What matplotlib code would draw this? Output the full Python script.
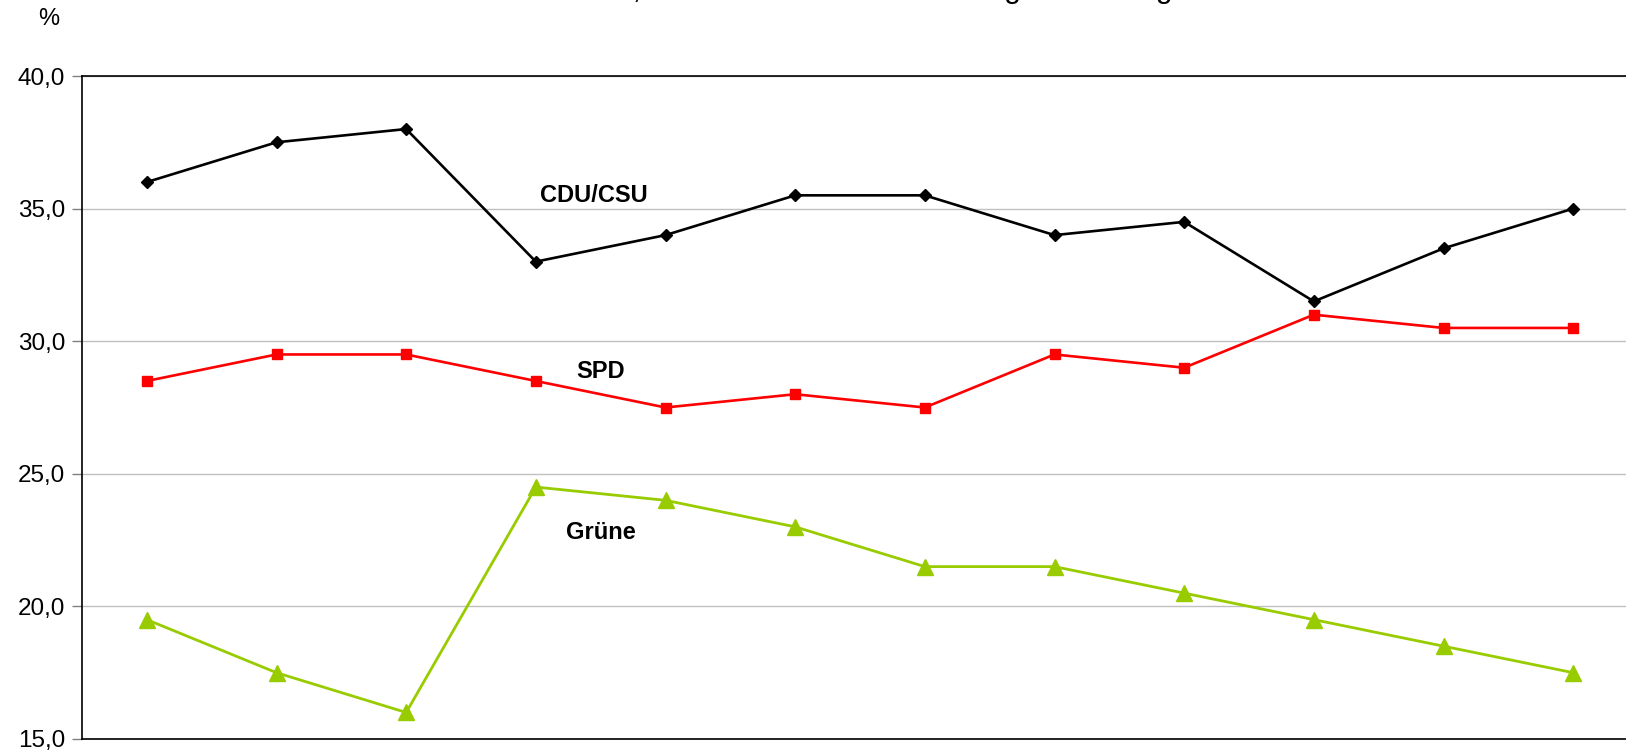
import matplotlib

matplotlib.use("Agg")
import matplotlib.pyplot as plt
from matplotlib.ticker import FuncFormatter, MultipleLocator

plt.rcParams["font.family"] = ["Liberation Sans", "DejaVu Sans"]

# survey waves (no labels visible in the crop)
waves = list(range(12))
cdu_csu = [36.0, 37.5, 38.0, 33.0, 34.0, 35.5, 35.5, 34.0, 34.5, 31.5, 33.5, 35.0]
spd = [28.5, 29.5, 29.5, 28.5, 27.5, 28.0, 27.5, 29.5, 29.0, 31.0, 30.5, 30.5]
gruene = [19.5, 17.5, 16.0, 24.5, 24.0, 23.0, 21.5, 21.5, 20.5, 19.5, 18.5, 17.5]
title = "Stimmenanteile der Parteien, wenn am nächsten Sonntag Bundestagswahl wäre"

W, H = 1626, 752
fig = plt.figure(figsize=(W / 100, H / 100), dpi=100)
left, right, top, bottom = 82, 1638, 76, 739
ax = fig.add_axes([left / W, 1 - bottom / H, (right - left) / W, (bottom - top) / H])

ax.plot(waves, cdu_csu, color="black", lw=1.9, marker="D", ms=6.5, zorder=3)
ax.plot(waves, spd, color="#ff0000", lw=1.9, marker="s", ms=7.5, zorder=3)
ax.plot(waves, gruene, color="#99cc00", lw=2.0, marker="^", ms=12, zorder=3)

ax.text(3.45, 35.5, "CDU/CSU", fontsize=17, fontweight="bold", ha="center", va="center")
ax.text(3.5, 28.85, "SPD", fontsize=17, fontweight="bold", ha="center", va="center")
ax.text(3.5, 22.8, "Grüne", fontsize=17, fontweight="bold", ha="center", va="center")

ax.set_xlim(-0.5, 11.5)
ax.set_ylim(15, 40)
ax.yaxis.set_major_locator(MultipleLocator(5))
ax.yaxis.set_major_formatter(FuncFormatter(lambda v, _: f"{v:.1f}".replace(".", ",")))
ax.set_xticks([])
ax.tick_params(axis="y", labelsize=17.5, length=7, width=1, color="#808080", pad=5)
ax.grid(axis="y", color="#c0c0c0", lw=1)
ax.set_axisbelow(True)
for side in ("left", "top", "bottom"):
    ax.spines[side].set_color("black")
    ax.spines[side].set_linewidth(1.2)
ax.spines["right"].set_visible(False)

fig.text(49 / W, 1 - 19 / H, "%", fontsize=17, ha="center", va="center")
# headline sits mostly above the cropped top edge, only descenders show
fig.text(255 / W, 1 + 2 / H, title, fontsize=21.5, ha="left", va="baseline", color="black")

fig.savefig("out.png", dpi=100)
